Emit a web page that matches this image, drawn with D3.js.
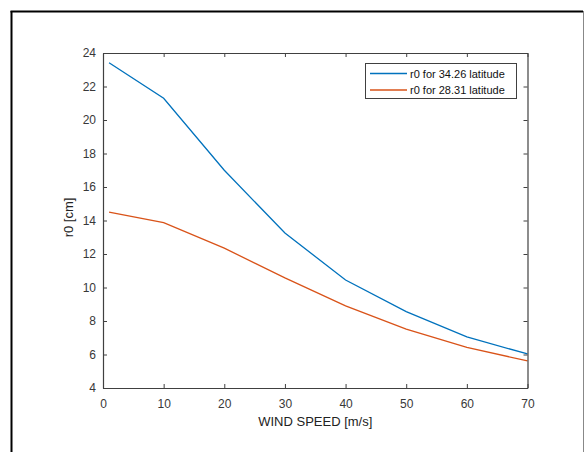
<!DOCTYPE html>
<html><head><meta charset="utf-8">
<script src="https://cdn.jsdelivr.net/npm/d3@7"></script>
<style>body{margin:0;background:#fff;} svg{display:block;}</style>
</head><body>
<svg id="c" width="585" height="452"></svg>
<script>
const windSpeed = [1, 10, 20, 30, 40, 50, 60, 70];
const r0Lat3426 = [23.42, 21.3, 17.0, 13.25, 10.45, 8.56, 7.05, 6.03];
const r0Lat2831 = [14.5, 13.87, 12.35, 10.57, 8.9, 7.52, 6.42, 5.62];
const seriesNames = ["r0 for 34.26 latitude", "r0 for 28.31 latitude"];
const seriesColors = ["#0072BD", "#D95319"];
const xTicks = [0, 10, 20, 30, 40, 50, 60, 70];
const yTicks = [4, 6, 8, 10, 12, 14, 16, 18, 20, 22, 24];

const svg = d3.select("#c");
const font = "'Liberation Sans', Arial, Helvetica, sans-serif";
const axisColor = "#404040";
const L = 103, R = 527.5, T = 53, B = 388;
const x = d3.scaleLinear().domain([0, 70]).range([L, R]);
const y = d3.scaleLinear().domain([4, 24]).range([B, T]);

// outer frame
svg.append("line").attr("x1", 11.5).attr("x2", 11.5).attr("y1", 11).attr("y2", 452).attr("stroke", "#000").attr("stroke-width", 2);
svg.append("line").attr("x1", 10.5).attr("x2", 583).attr("y1", 11.5).attr("y2", 11.5).attr("stroke", "#000").attr("stroke-width", 2);
svg.append("line").attr("x1", 583.5).attr("x2", 583.5).attr("y1", 11).attr("y2", 452).attr("stroke", "#888").attr("stroke-width", 1);

const data = [r0Lat3426, r0Lat2831];
const line = d3.line().x((d, i) => x(windSpeed[i])).y(d => y(d));
data.forEach((s, k) => {
  svg.append("path").datum(s).attr("d", line).attr("fill", "none")
    .attr("stroke", seriesColors[k]).attr("stroke-width", 1.3);
});

// axes
const tl = 4;
const gB = svg.append("g").attr("transform", `translate(0,${B})`)
  .call(d3.axisBottom(x).tickValues(xTicks).tickSizeInner(-tl).tickSizeOuter(0).tickPadding(11));
const gT = svg.append("g").attr("transform", `translate(0,${T})`)
  .call(d3.axisTop(x).tickValues(xTicks).tickSizeInner(-tl).tickSizeOuter(0).tickFormat(""));
const gL = svg.append("g").attr("transform", `translate(${L},0)`)
  .call(d3.axisLeft(y).tickValues(yTicks).tickSizeInner(-tl).tickSizeOuter(0).tickPadding(7));
const gR = svg.append("g").attr("transform", `translate(${R},0)`)
  .call(d3.axisRight(y).tickValues(yTicks).tickSizeInner(-tl).tickSizeOuter(0).tickFormat(""));
[gB, gT, gL, gR].forEach(g => {
  g.select(".domain").attr("stroke", axisColor).attr("stroke-width", 1.2);
  g.selectAll(".tick line").attr("stroke", axisColor);
  g.selectAll("text").attr("fill", "#383838").style("font-family", font).style("font-size", "12px");
});

// axis titles
svg.append("text").attr("x", (L + R) / 2).attr("y", 426).attr("text-anchor", "middle")
  .style("font-family", font).style("font-size", "13px").attr("fill", "#222").text("WIND SPEED [m/s]");
svg.append("text").attr("transform", `translate(73,${(T + B) / 2 - 3}) rotate(-90)`).attr("text-anchor", "middle")
  .style("font-family", font).style("font-size", "13px").attr("fill", "#222").text("r0 [cm]");

// legend
const lg = svg.append("g");
lg.append("rect").attr("x", 365.5).attr("y", 63.5).attr("width", 151).attr("height", 35)
  .attr("fill", "#fff").attr("stroke", axisColor).attr("stroke-width", 1);
seriesNames.forEach((n, k) => {
  const yy = 73.5 + k * 16.5;
  lg.append("line").attr("x1", 370).attr("x2", 407).attr("y1", yy).attr("y2", yy)
    .attr("stroke", seriesColors[k]).attr("stroke-width", 1.3);
  lg.append("text").attr("x", 410).attr("y", yy + 4).style("font-family", font)
    .style("font-size", "11px").attr("fill", "#111").text(n);
});
</script>
</body></html>
